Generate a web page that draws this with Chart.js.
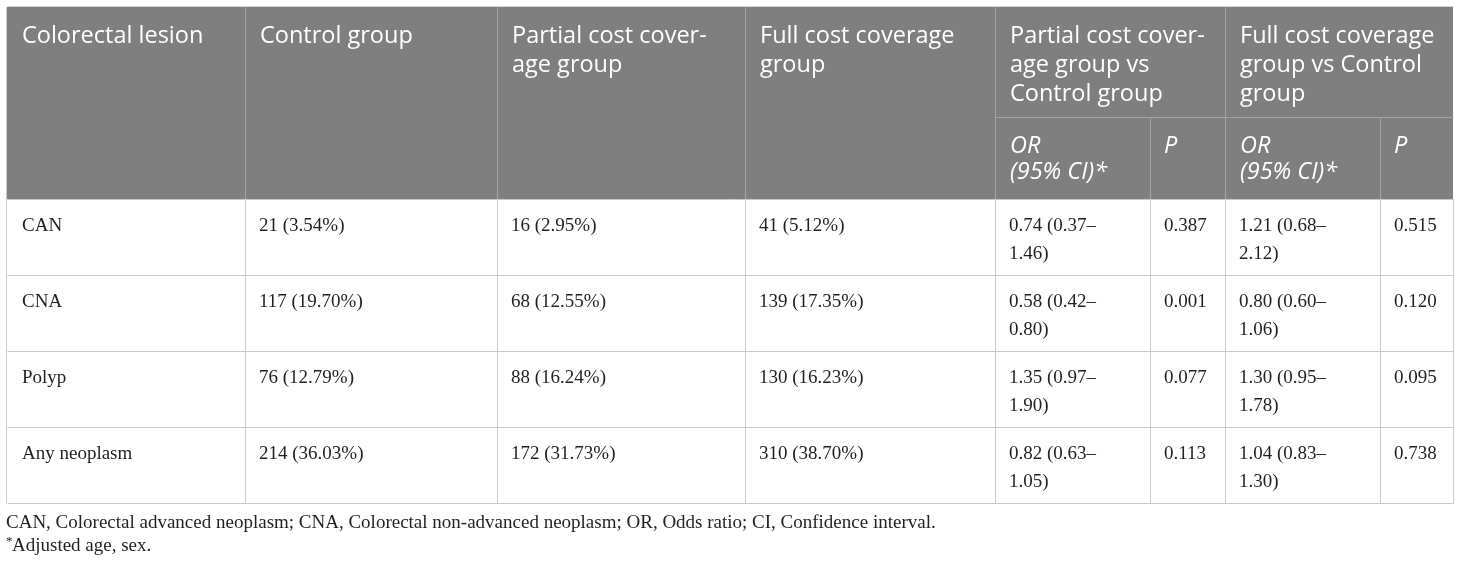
<!DOCTYPE html>
<html>
<head>
<meta charset="utf-8">
<script src="https://cdn.jsdelivr.net/npm/chart.js@4.4.1/dist/chart.umd.min.js"></script>
<style>
  html, body { margin: 0; padding: 0; background: #fff; }
  #wrap { width: 1460px; height: 565px; position: relative; }
</style>
</head>
<body>
<div id="wrap"><canvas id="tableChart"></canvas></div>
<script>
// table data
const lesions = ['CAN', 'CNA', 'Polyp', 'Any neoplasm'];
const controlN = [21, 117, 76, 214];
const controlPct = [3.54, 19.70, 12.79, 36.03];
const partialN = [16, 68, 88, 172];
const partialPct = [2.95, 12.55, 16.24, 31.73];
const fullN = [41, 139, 130, 310];
const fullPct = [5.12, 17.35, 16.23, 38.70];
const partialOR = [0.74, 0.58, 1.35, 0.82];
const partialLow = [0.37, 0.42, 0.97, 0.63];
const partialHigh = [1.46, 0.80, 1.90, 1.05];
const partialP = [0.387, 0.001, 0.077, 0.113];
const fullOR = [1.21, 0.80, 1.30, 1.04];
const fullLow = [0.68, 0.60, 0.95, 0.83];
const fullHigh = [2.12, 1.06, 1.78, 1.30];
const fullP = [0.515, 0.120, 0.095, 0.738];

const headLabels = [
    ['Colorectal lesion'],
    ['Control group'],
    ['Partial cost cover-', 'age group'],
    ['Full cost coverage', 'group'],
    ['Partial cost cover-', 'age group vs', 'Control group'],
    ['Full cost coverage', 'group vs Control', 'group']
];
const subLabels = [['OR', '(95% CI)*'], ['P']];
const footnotes = [
    'CAN, Colorectal advanced neoplasm; CNA, Colorectal non-advanced neoplasm; OR, Odds ratio; CI, Confidence interval.',
    'Adjusted age, sex.'
];

// layout (page pixels)
const colEdges = [7, 245, 497, 745, 995, 1150, 1225, 1380, 1453];
const headTop = 7, subTop = 117, headBottom = 199;
const rowEdges = [199, 275, 351, 427, 503];

const count = (n, p) => n + ' (' + p.toFixed(2) + '%)';
const orLines = (o, lo, hi) => [o.toFixed(2) + ' (' + lo.toFixed(2) + '\u2013', hi.toFixed(2) + ')'];

const bodyCells = lesions.map((l, i) => [
    [l],
    [count(controlN[i], controlPct[i])],
    [count(partialN[i], partialPct[i])],
    [count(fullN[i], fullPct[i])],
    orLines(partialOR[i], partialLow[i], partialHigh[i]),
    [partialP[i].toFixed(3)],
    orLines(fullOR[i], fullLow[i], fullHigh[i]),
    [fullP[i].toFixed(3)]
]);

const SANS = '"Open Sans", "Noto Sans", sans-serif';
const SERIF = '"Liberation Serif", "DejaVu Serif", serif';

const tablePlugin = {
    id: 'tablePlugin',
    afterDraw(chart) {
        const ctx = chart.ctx;
        const X = v => chart.scales.x.getPixelForValue(v);
        const Y = v => chart.scales.y.getPixelForValue(v);
        const line = (x1, y1, x2, y2, color) => {
            ctx.strokeStyle = color;
            ctx.lineWidth = 1;
            ctx.beginPath();
            ctx.moveTo(Math.round(X(x1)) + 0.5, Math.round(Y(y1)) + 0.5);
            ctx.lineTo(Math.round(X(x2)) + 0.5, Math.round(Y(y2)) + 0.5);
            ctx.stroke();
        };
        // y is the baseline of the first line
        const text = (lines, x, y, font, color, step) => {
            ctx.font = font;
            ctx.fillStyle = color;
            ctx.textAlign = 'left';
            ctx.textBaseline = 'alphabetic';
            lines.forEach((t, k) => ctx.fillText(t, X(x), Y(y + k * step)));
        };

        ctx.save();
        // header background
        ctx.fillStyle = '#7f7f7f';
        ctx.fillRect(X(colEdges[0]), Y(headTop), X(colEdges[8]) - X(colEdges[0]), Y(headBottom) - Y(headTop));

        // header lines
        const hl = '#a3a3a3';
        [1, 2, 3, 4, 6].forEach(c => line(colEdges[c], headTop, colEdges[c], headBottom, hl));
        line(colEdges[5], subTop, colEdges[5], headBottom, hl);
        line(colEdges[7], subTop, colEdges[7], headBottom, hl);
        line(colEdges[4], subTop, colEdges[8], subTop, hl);

        // header text
        const headCols = [0, 1, 2, 3, 4, 6];
        headLabels.forEach((lines, k) => {
            text(lines, colEdges[headCols[k]] + 15, headTop + 36, '23.5px ' + SANS, '#ffffff', 29);
        });
        [4, 6].forEach(c => {
            text(subLabels[0], colEdges[c] + 15, subTop + 36, 'italic 23.5px ' + SANS, '#ffffff', 26);
            text(subLabels[1], colEdges[c + 1] + 14, subTop + 36, 'italic 23.5px ' + SANS, '#ffffff', 26);
        });

        // body grid
        const gl = '#c9c9c9';
        line(colEdges[0], headTop - 1, colEdges[8], headTop - 1, '#d4d4d4');
        line(colEdges[0] - 1, headTop, colEdges[0] - 1, rowEdges[4], gl);
        line(colEdges[8], rowEdges[0], colEdges[8], rowEdges[4], gl);
        rowEdges.forEach(r => line(colEdges[0], r, colEdges[8], r, gl));
        colEdges.slice(1, 8).forEach(c => line(c, rowEdges[0], c, rowEdges[4], gl));

        // body text
        bodyCells.forEach((row, i) => {
            row.forEach((lines, c) => {
                const pad = c === 0 ? 15 : 14;
                text(lines, colEdges[c] + pad, rowEdges[i] + 31.5, '19px ' + SERIF, '#231f20', 28);
            });
        });

        // footnotes
        text([footnotes[0]], colEdges[0] - 1, 528, '19px ' + SERIF, '#231f20', 0);
        text(['*'], colEdges[0] - 1, 545, '13px ' + SERIF, '#231f20', 0);
        text([footnotes[1]], colEdges[0] + 5, 551, '19px ' + SERIF, '#231f20', 0);
        ctx.restore();
    }
};

new Chart(document.getElementById('tableChart'), {
    type: 'scatter',
    data: { datasets: [{ data: [] }] },
    options: {
        responsive: true,
        maintainAspectRatio: false,
        animation: false,
        layout: { padding: 0 },
        plugins: { legend: { display: false }, tooltip: { enabled: false } },
        scales: {
            x: { type: 'linear', min: 0, max: 1460, display: false },
            y: { type: 'linear', min: 0, max: 565, reverse: true, display: false }
        }
    },
    plugins: [tablePlugin]
});
</script>
</body>
</html>
